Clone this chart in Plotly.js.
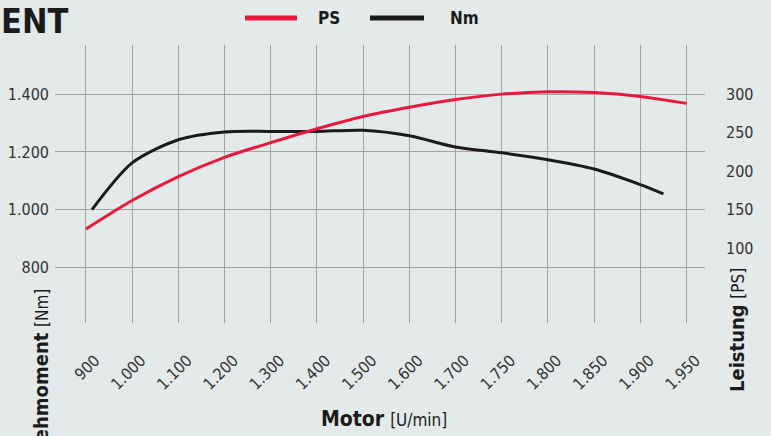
<!DOCTYPE html>
<html>
<head>
<meta charset="utf-8">
<script src="https://cdn.plot.ly/plotly-3.0.1.min.js"></script>
<style>html,body{margin:0;padding:0;background:#e4e9ea;}#chart{width:771px;height:436px;}</style>
</head>
<body>
<div id="chart"></div>
<script>
// Category tick labels (motor speed, U/min)
const rpmLabels = ["900","1.000","1.100","1.200","1.300","1.400","1.500","1.600","1.700","1.750","1.800","1.850","1.900","1.950"];
const rpmIndex = [0,1,2,3,4,5,6,7,8,9,10,11,12,13];

// Leistung [PS] at each category
const psValues = [125, 162, 193, 218, 237, 255, 271, 283, 293, 300, 303, 302, 297, 288];

// Drehmoment [Nm]; curve starts just after 900 and ends between 1.900 and 1.950
const nmIndex = [0.13, 1, 2, 3, 4, 5, 6, 7, 8, 9, 10, 11, 12, 12.5];
const nmValues = [1000, 1162, 1242, 1269, 1271, 1271, 1275, 1256, 1217, 1197, 1173, 1141, 1087, 1055];

const nmTicks = [800, 1000, 1200, 1400];
const psTicks = [100, 150, 200, 250, 300];

const seriesNames = ["PS", "Nm"];
const RED = "#e8193c", BLACK = "#1b1b1b";
const NARROW = "DejaVu Sans Condensed, Liberation Sans Narrow, sans-serif";
const GRID = "#a9a3a0";

const L = 55, R = 705, T = 45, B = 323, W = 771, H = 436;
const px = v => (v - L) / (R - L);
const py = v => (B - v) / (B - T);

const traces = [
  {x: rpmIndex, y: psValues, name: seriesNames[0], yaxis: "y2", type: "scatter", mode: "lines",
   line: {color: RED, width: 3, shape: "spline", smoothing: 0.8}, showlegend: false, hoverinfo: "skip"},
  {x: nmIndex, y: nmValues, name: seriesNames[1], yaxis: "y", type: "scatter", mode: "lines",
   line: {color: BLACK, width: 3, shape: "spline", smoothing: 0.8}, showlegend: false, hoverinfo: "skip"}
];

const layout = {
  width: W, height: H,
  margin: {l: L, r: W - R, t: T, b: H - B, pad: 0},
  paper_bgcolor: "#e4e9ea", plot_bgcolor: "rgba(0,0,0,0)",
  separators: ",.",
  showlegend: false,
  xaxis: {
    range: [-0.67, 13.4], tickmode: "array", tickvals: rpmIndex, ticktext: rpmLabels,
    tickangle: -45, showgrid: true, gridcolor: GRID, gridwidth: 1, zeroline: false, showline: false,
    ticks: "", ticklabelstandoff: 24, ticklabelshift: 9,
    tickfont: {family: NARROW, size: 16, color: "#333"}
  },
  yaxis: {
    range: [608, 1570], tickmode: "array", tickvals: nmTicks, tickformat: ",d",
    showgrid: true, gridcolor: GRID, gridwidth: 1, zeroline: false, showline: false, ticks: "",
    ticklabelstandoff: 5,
    tickfont: {family: NARROW, size: 16, color: "#333"}
  },
  yaxis2: {
    overlaying: "y", side: "right", range: [3, 363.75], tickmode: "array", tickvals: psTicks,
    showgrid: false, zeroline: false, showline: false, ticks: "", ticklabelstandoff: 20,
    tickfont: {family: NARROW, size: 16, color: "#333"}
  },
  shapes: [
    {type: "line", xref: "paper", yref: "paper", x0: px(245), x1: px(297), y0: py(18), y1: py(18), line: {color: RED, width: 5}},
    {type: "line", xref: "paper", yref: "paper", x0: px(370), x1: px(424), y0: py(18), y1: py(18), line: {color: BLACK, width: 5}}
  ],
  annotations: [
    {text: "<b>ENT</b>", xref: "paper", yref: "paper", x: px(0), y: py(0), xanchor: "left", yanchor: "top",
     showarrow: false, borderpad: 0, font: {family: NARROW, size: 34, color: BLACK}},
    {text: "<b>" + seriesNames[0] + "</b>", xref: "paper", yref: "paper", x: px(316), y: py(18), xanchor: "left", yanchor: "middle",
     showarrow: false, font: {family: NARROW, size: 17, color: BLACK}},
    {text: "<b>" + seriesNames[1] + "</b>", xref: "paper", yref: "paper", x: px(448), y: py(18), xanchor: "left", yanchor: "middle",
     showarrow: false, font: {family: NARROW, size: 17, color: BLACK}},
    {text: "<b>Motor</b> <span style='font-size:17px'>[U/min]</span>", xref: "paper", yref: "paper", x: px(384), y: py(419),
     xanchor: "center", yanchor: "middle", showarrow: false, font: {family: NARROW, size: 21, color: BLACK}},
    {text: "<b>Drehmoment</b> <span style='font-size:17px'>[Nm]</span>", xref: "paper", yref: "paper", x: px(41), y: py(287),
     xanchor: "center", yanchor: "top", textangle: -90, showarrow: false, font: {family: NARROW, size: 20, color: BLACK}},
    {text: "<b>Leistung</b> <span style='font-size:17px'>[PS]</span>", xref: "paper", yref: "paper", x: px(737), y: py(394),
     xanchor: "center", yanchor: "bottom", textangle: -90, showarrow: false, font: {family: NARROW, size: 20, color: BLACK}}
  ]
};

Plotly.newPlot("chart", traces, layout, {staticPlot: true, displayModeBar: false});
</script>
</body>
</html>
